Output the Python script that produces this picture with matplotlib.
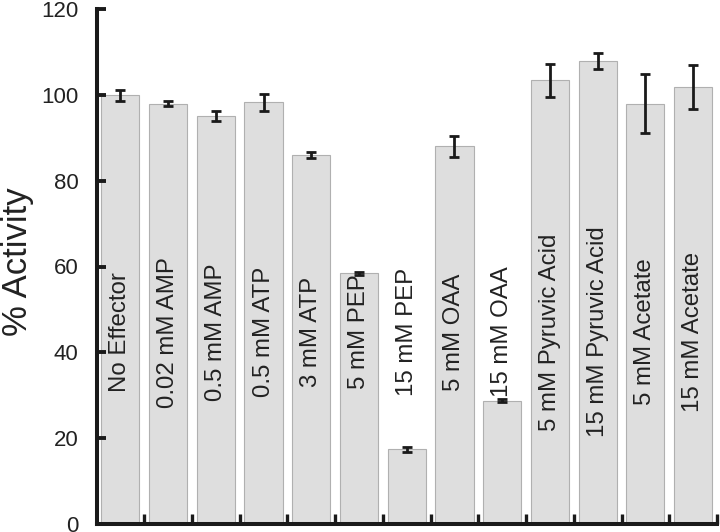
import matplotlib
matplotlib.use('Agg')
import matplotlib.pyplot as plt
import numpy as np

plt.rcParams['font.family'] = ['Liberation Sans', 'DejaVu Sans']

categories = ["No Effector", "0.02 mM AMP", "0.5 mM AMP", "0.5 mM ATP", "3 mM ATP",
              "5 mM PEP", "15 mM PEP", "5 mM OAA", "15 mM OAA",
              "5 mM Pyruvic Acid", "15 mM Pyruvic Acid", "5 mM Acetate", "15 mM Acetate"]
activity = [99.9, 98.0, 95.1, 98.3, 86.0, 58.4, 17.4, 88.0, 28.7, 103.4, 107.9, 98.0, 101.9]
errors = [1.3, 0.6, 1.2, 2.0, 0.6, 0.3, 0.6, 2.4, 0.3, 3.85, 1.8, 6.9, 5.05]
y_ticks = [0, 20, 40, 60, 80, 100, 120]

fig = plt.figure(figsize=(7.2, 5.32), dpi=100)
ax = fig.add_axes([96.5 / 720, 8.3 / 532, 620.5 / 720, 514.4 / 532])

x = np.arange(len(categories))
ax.bar(x, activity, width=0.8, color='#dedede', edgecolor='#b0b0b0', linewidth=0.8, zorder=1)
ax.errorbar(x, activity, yerr=errors, fmt='none', ecolor='#1a1a1a', elinewidth=2,
            capsize=3.6, capthick=2, zorder=3)

for xi, lab in zip(x, categories):
    ax.text(xi, 44.7, lab, rotation=90, ha='center', va='center', fontsize=17.3,
            color='#222222', zorder=4)

ax.set_xlim(-0.5, 12.5)
ax.set_ylim(0, 120)
ax.set_yticks(y_ticks)
ax.set_yticklabels([str(t) for t in y_ticks], fontsize=16, color='#222222')
ax.set_xticks(np.arange(0.5, len(categories), 1.0))
ax.set_xticklabels([])

ax.tick_params(axis='y', direction='in', length=6.5, width=2.8, color='#1a1a1a', pad=13)
ax.tick_params(axis='x', direction='in', length=7.2, width=2.4, color='#1a1a1a')

for s in ['top', 'right']:
    ax.spines[s].set_visible(False)
for s in ['left', 'bottom']:
    ax.spines[s].set_linewidth(2.9)
    ax.spines[s].set_color('#1a1a1a')

fig.text(17 / 720, 1 - 262 / 532, '% Activity', rotation=90, ha='center', va='center',
         fontsize=25, color='#222222')

fig.savefig('out.png', dpi=100)
